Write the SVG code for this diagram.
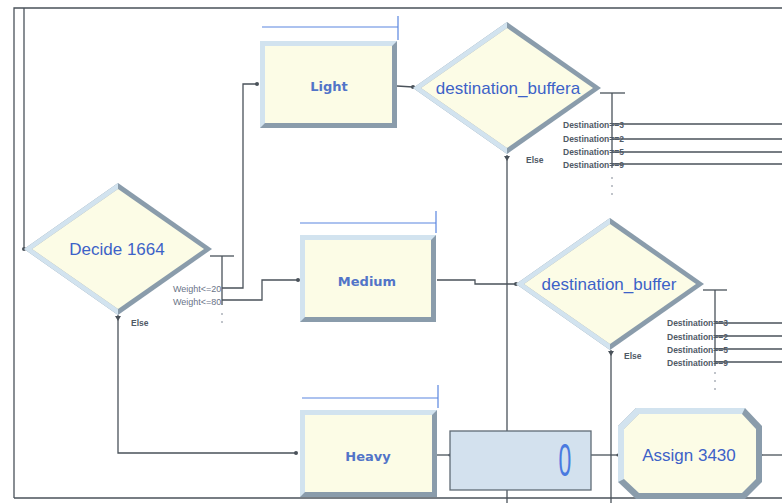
<svg xmlns="http://www.w3.org/2000/svg" width="782" height="503" viewBox="0 0 782 503">
<style>
.ln{fill:none;stroke:#4a525a;stroke-width:1.3}
.bar{fill:none;stroke:#5a86e0;stroke-width:1.2}
.lbl{font-family:"Liberation Sans",Arial,sans-serif;fill:#3c62c8;text-anchor:middle;dominant-baseline:central;font-size:17px}
.box{font-family:"DejaVu Sans",Verdana,sans-serif;font-weight:bold;fill:#5274c8;text-anchor:middle;dominant-baseline:central;font-size:13px}
.sm{font-family:"Liberation Sans",Arial,sans-serif;font-size:9px;fill:#6a7488}
.dst{font-family:"Liberation Sans",Arial,sans-serif;font-size:8.5px;font-weight:bold;fill:#505a66}
.dark{fill:#8a9cab}
.light{fill:#d2e3ef}
.fill{fill:#fcfce6}
.dot{fill:#4a525a}
.big{font-family:"Liberation Sans",Arial,sans-serif;fill:#4a7ae0;text-anchor:middle;dominant-baseline:central;font-size:46px}
</style>
<defs>
<symbol id="dia" overflow="visible">
<polygon class="dark" points="-94,0 0,-66 94,0 0,66"/>
<polygon class="light" points="0,-66 -94,0 0,66 0,60 -86,0 0,-60"/>
<polygon class="fill" points="-86,0 0,-60 86,0 0,60"/>
</symbol>
</defs>
<rect width="782" height="503" fill="#ffffff"/>
<g id="connectors">
<polyline class="ln" points="14,498 14,8 782,8"/>
<polyline class="ln" points="24,8 24,249"/>
<polyline class="ln" points="14,498 782,498"/>
<polyline class="ln" points="210,256 234,256"/>
<polyline class="ln" points="222,256 222,305"/>
<polyline class="ln" points="222,288 243,288 243,84 257,84"/>
<polyline class="ln" points="222,300 262,300 262,280 298,280"/>
<polyline class="ln" points="118,315 118,453 296,453"/>
<polyline class="ln" points="397,86 413,87"/>
<polyline class="ln" points="600,93 625,93"/>
<polyline class="ln" points="612,93 612,168"/>
<polyline class="ln" points="612,124 782,124"/>
<polyline class="ln" points="612,139 782,139"/>
<polyline class="ln" points="612,152 782,152"/>
<polyline class="ln" points="612,164 782,164"/>
<polyline class="ln" points="507,155 507,503"/>
<polyline class="ln" points="437,280 475,280 475,284 516,284"/>
<polyline class="ln" points="703,290 727,290"/>
<polyline class="ln" points="715,290 715,366"/>
<polyline class="ln" points="715,323 782,323"/>
<polyline class="ln" points="715,336 782,336"/>
<polyline class="ln" points="715,349 782,349"/>
<polyline class="ln" points="715,362 782,362"/>
<polyline class="ln" points="611,350 611,503"/>
<polyline class="ln" points="437,455 450,455"/>
<polyline class="ln" points="591,455 618,455"/>
<polyline class="ln" points="762,455 782,455"/>
<circle class="dot" cx="24" cy="249" r="2"/>
<circle class="dot" cx="257" cy="84" r="2"/>
<circle class="dot" cx="298" cy="280" r="2"/>
<circle class="dot" cx="296" cy="453" r="2"/>
<circle class="dot" cx="413" cy="87" r="2"/>
<circle class="dot" cx="516" cy="284" r="2"/>
<circle class="dot" cx="450" cy="455" r="1.6"/>
<circle class="dot" cx="618" cy="455" r="1.6"/>
<polygon class="dot" points="115,316 121,316 118,321"/>
<polygon class="dot" points="504,156 510,156 507,161"/>
<polygon class="dot" points="608,351 614,351 611,356"/>
<g fill="#707a86">
<circle cx="222" cy="314" r="0.8"/><circle cx="222" cy="322" r="0.8"/>
<circle cx="612" cy="178" r="0.8"/><circle cx="612" cy="186" r="0.8"/><circle cx="612" cy="194" r="0.8"/>
<circle cx="715" cy="373" r="0.8"/><circle cx="715" cy="381" r="0.8"/><circle cx="715" cy="389" r="0.8"/>
</g>
<text class="sm" x="173" y="292">Weight&lt;=20</text>
<text class="sm" x="173" y="305">Weight&lt;=80</text>
<text class="dst" x="131" y="326">Else</text>
<text class="dst" x="526" y="163">Else</text>
<text class="dst" x="624" y="359">Else</text>
<text class="dst" x="563" y="128">Destination==3</text>
<text class="dst" x="563" y="142">Destination==2</text>
<text class="dst" x="563" y="155">Destination==5</text>
<text class="dst" x="563" y="168">Destination==9</text>
<text class="dst" x="667" y="326">Destination==3</text>
<text class="dst" x="667" y="340">Destination==2</text>
<text class="dst" x="667" y="353">Destination==5</text>
<text class="dst" x="667" y="366">Destination==9</text>
</g>
<g id="decide1664">
<use href="#dia" x="118" y="249"/>
<text class="lbl" x="117" y="249">Decide 1664</text>
</g>
<g id="light">
<polyline class="bar" points="262,27 398,27 398,16 398,40"/>
<rect class="dark" x="260" y="41" width="137" height="87"/>
<polygon class="light" points="260,41 397,41 392,46 265,46 265,123 260,128"/>
<rect class="fill" x="265" y="46" width="127" height="77"/>
<text class="box" x="329" y="86">Light</text>
</g>
<g id="destination_buffera">
<use href="#dia" x="507" y="88"/>
<text class="lbl" x="508" y="88">destination_buffera</text>
</g>
<g id="medium">
<polyline class="bar" points="300,223 436,223 436,211 436,233"/>
<rect class="dark" x="300" y="235" width="136" height="87"/>
<polygon class="light" points="300,235 436,235 431,240 305,240 305,317 300,322"/>
<rect class="fill" x="305" y="240" width="126" height="77"/>
<text class="box" x="367" y="281">Medium</text>
</g>
<g id="destination_buffer">
<use href="#dia" x="610" y="284"/>
<text class="lbl" x="609" y="284">destination_buffer</text>
</g>
<g id="heavy">
<polyline class="bar" points="302,398 438,398 438,385 438,408"/>
<rect class="dark" x="300" y="410" width="137" height="87"/>
<polygon class="light" points="300,410 437,410 432,415 305,415 305,492 300,497"/>
<rect class="fill" x="305" y="415" width="127" height="77"/>
<text class="box" x="368" y="456">Heavy</text>
</g>
<g id="process0">
<rect x="450" y="431" width="141" height="59" fill="#d3e1ee" stroke="#5f6a75" stroke-width="1.3"/>
<text class="big" x="0" y="0" transform="translate(565,460) scale(0.5,1)">0</text>
</g>
<g id="assign3430">
<polygon class="dark" points="636,408 745,408 762,426 762,482 745,499 636,499 618,482 618,426"/>
<polygon class="light" points="618,482 618,426 636,408 745,408 742,414 639,414 624,429 624,479"/>
<polygon class="fill" points="639,414 742,414 756,429 756,479 742,493 639,493 624,479 624,429"/>
<text class="lbl" x="689" y="455">Assign 3430</text>
</g>
</svg>
